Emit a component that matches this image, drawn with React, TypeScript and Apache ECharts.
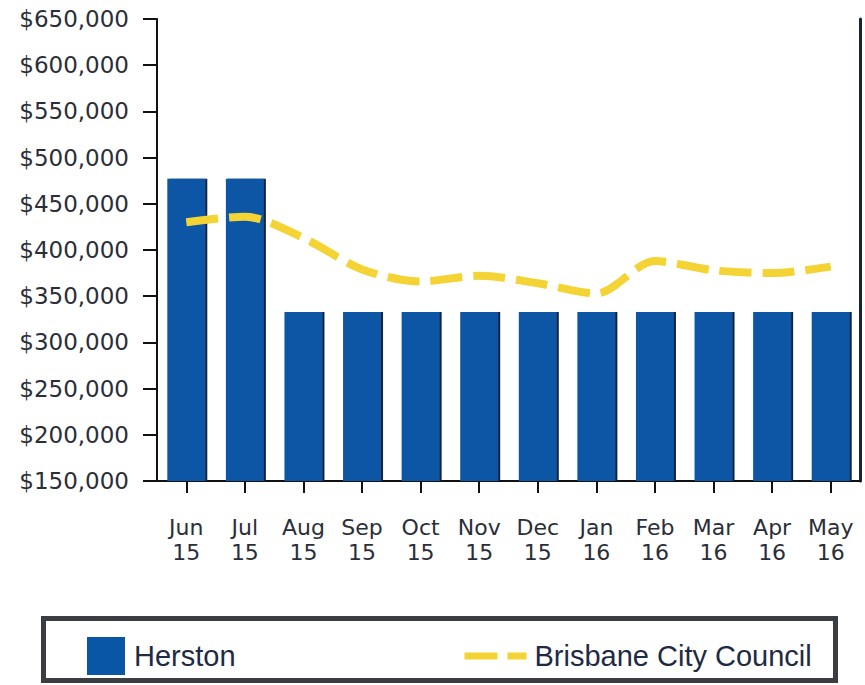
import React, { useEffect, useRef } from "react";
import * as echarts from "echarts";

const categories = ["Jun 15", "Jul 15", "Aug 15", "Sep 15", "Oct 15", "Nov 15", "Dec 15", "Jan 16", "Feb 16", "Mar 16", "Apr 16", "May 16"];
const herston = [477000, 477000, 333000, 333000, 333000, 333000, 333000, 333000, 333000, 333000, 333000, 333000];
const brisbane = [430000, 436000, 413000, 379000, 366000, 372000, 364000, 353000, 388000, 378000, 375000, 382000];
const yMin = 150000;
const yMax = 650000;
const yStep = 50000;

export default function App() {
  const ref = useRef<HTMLDivElement>(null);
  useEffect(() => {
    if (!ref.current) return;
    const chart = echarts.init(ref.current, null, { renderer: "svg" });
    const axisFont = { fontFamily: "DejaVu Sans", fontSize: 23, color: "#2a2e38" };
    const legendText = { fontFamily: "Liberation Sans", fontSize: 29, color: "#1f2a44", lineHeight: 38 };
    chart.setOption({
      animation: false,
      backgroundColor: "#ffffff",
      grid: { left: 157, right: 5, top: 19, bottom: 204, containLabel: false },
      xAxis: {
        type: "category",
        data: categories,
        boundaryGap: true,
        axisLine: { show: true, lineStyle: { color: "#111111", width: 2 } },
        axisTick: { show: true, alignWithLabel: true, length: 12, lineStyle: { color: "#111111", width: 2 } },
        axisLabel: {
          ...axisFont,
          fontSize: 22,
          interval: 0,
          margin: 34,
          lineHeight: 25,
          formatter: (v: string) => v.replace(" ", "\n"),
        },
        splitLine: { show: false },
      },
      yAxis: [
        {
          type: "value",
          min: yMin,
          max: yMax,
          interval: yStep,
          axisLine: { show: true, lineStyle: { color: "#111111", width: 2 } },
          axisTick: { show: true, length: 14, lineStyle: { color: "#111111", width: 2 } },
          axisLabel: {
            ...axisFont,
            margin: 28,
            formatter: (v: number) => "$" + v.toLocaleString("en-US"),
          },
          splitLine: { show: false },
        },
        {
          type: "value",
          position: "right",
          min: yMin,
          max: yMax,
          interval: yStep,
          axisLine: { show: true, lineStyle: { color: "#1b2233", width: 3 } },
          axisTick: { show: false },
          axisLabel: { show: false },
          splitLine: { show: false },
        },
      ],
      legend: [
        {
          data: [{ name: "Herston", icon: "rect" }],
          left: 82,
          top: 632,
          itemWidth: 38,
          itemHeight: 38,
          textStyle: { ...legendText, padding: [0, 0, 0, 4] },
          selectedMode: false,
        },
        {
          data: ["Brisbane City Council"],
          left: 456,
          top: 632,
          itemWidth: 62,
          itemHeight: 14,
          itemStyle: { opacity: 0 },
          lineStyle: { width: 7, type: [33, 10], color: "#f4d335", opacity: 1 },
          textStyle: { ...legendText, padding: [0, 0, 0, 3] },
          selectedMode: false,
        },
      ],
      graphic: [
        {
          type: "rect",
          z: -1,
          shape: { x: 43.5, y: 618.5, width: 792, height: 62 },
          style: { fill: "none", stroke: "#3a3d42", lineWidth: 5 },
        },
      ],
      series: [
        {
          name: "Herston",
          type: "bar",
          data: herston,
          barWidth: 38,
          itemStyle: {
            color: "#0a56a6",
            shadowColor: "#14213d",
            shadowOffsetX: 2,
            shadowOffsetY: 0,
            shadowBlur: 0,
          },
        },
        {
          name: "Brisbane City Council",
          type: "line",
          data: brisbane,
          smooth: 0.3,
          symbol: "none",
          lineStyle: { color: "#f4d335", width: 8, type: [32, 11] },
          itemStyle: { color: "#f4d335" },
          z: 3,
        },
      ],
    });
    return () => chart.dispose();
  }, []);
  return <div ref={ref} style={{ position: "fixed", left: 0, top: 0, width: 865, height: 685 }} />;
}
